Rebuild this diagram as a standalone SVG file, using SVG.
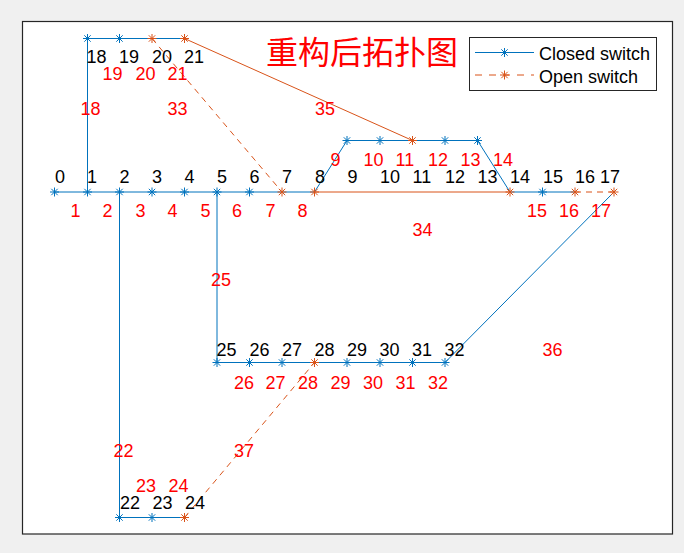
<svg xmlns="http://www.w3.org/2000/svg" xmlns:xlink="http://www.w3.org/1999/xlink" width="684" height="553" viewBox="0 0 684 553">
<style>
.cl{fill:none;stroke:#0072BD;stroke-width:1}
.op{fill:none;stroke:#D95319;stroke-width:1}
.ds{stroke-dasharray:6,5}
.t{font-family:"Liberation Sans",Arial,sans-serif;font-size:18px;fill:#000}
.r{font-family:"Liberation Sans",Arial,sans-serif;font-size:18px;fill:#f00}
.mb{stroke:#0072BD;stroke-width:1;fill:none}
.mo{stroke:#D95319;stroke-width:1;fill:none}
</style>
<defs>
<path id="ast" d="M-4.5,0H4.5M0,-4.5V4.5M-3.2,-3.2L3.2,3.2M-3.2,3.2L3.2,-3.2"/>
</defs>
<rect x="0" y="0" width="684" height="553" fill="#f0f0f0"/>
<rect x="22.5" y="21.5" width="650" height="512.5" fill="#fff" stroke="#262626" stroke-width="1.2"/>

<g id="connectors">
<polyline class="cl" points="54.5,192 87.5,192 119.5,192 152,192 184.5,192 217,192 249.5,192 282,192 314.5,192"/>
<line class="op" x1="314.5" y1="192" x2="510" y2="192"/>
<polyline class="cl" points="314.5,192 347,140.5 380,140.5 412.5,140.5 445,140.5 477.5,140.5 510,192"/>
<polyline class="cl" points="510,192 542.5,192 575,192"/>
<line class="op ds" x1="575" y1="192" x2="614" y2="192"/>
<polyline class="cl" points="87.5,192 87.5,38.5 119.5,38.5 152,38.5 184.5,38.5"/>
<line class="op" x1="184.5" y1="38.5" x2="412.5" y2="140.5"/>
<line class="op ds" x1="152" y1="38.5" x2="282" y2="192"/>
<polyline class="cl" points="119.5,192 119.5,517.5 152,517.5 184.5,517.5"/>
<line class="op ds" x1="184.5" y1="517.5" x2="314.5" y2="362.5"/>
<polyline class="cl" points="217,192 217,362.5 249.5,362.5 282,362.5 314.5,362.5 347,362.5 380,362.5 412.5,362.5 445,362.5 614,192"/>
<g id="branch-labels">
<text class="r" x="70.5" y="217">1</text>
<text class="r" x="102.5" y="217">2</text>
<text class="r" x="135.5" y="217">3</text>
<text class="r" x="167.5" y="217">4</text>
<text class="r" x="200.5" y="217">5</text>
<text class="r" x="232" y="217">6</text>
<text class="r" x="265.5" y="217">7</text>
<text class="r" x="297.5" y="217">8</text>
<text class="r" x="330.5" y="166">9</text>
<text class="r" x="363.5" y="166">10</text>
<text class="r" x="395.5" y="166">11</text>
<text class="r" x="428" y="166">12</text>
<text class="r" x="460.5" y="166">13</text>
<text class="r" x="493" y="166">14</text>
<text class="r" x="527" y="217">15</text>
<text class="r" x="559" y="217">16</text>
<text class="r" x="591" y="217">17</text>
<text class="r" x="80.5" y="115">18</text>
<text class="r" x="102.5" y="80">19</text>
<text class="r" x="135.5" y="80">20</text>
<text class="r" x="167.5" y="80">21</text>
<text class="r" x="113.5" y="457">22</text>
<text class="r" x="136" y="492">23</text>
<text class="r" x="168.5" y="492">24</text>
<text class="r" x="211" y="286">25</text>
<text class="r" x="234" y="389">26</text>
<text class="r" x="265.5" y="389">27</text>
<text class="r" x="298" y="389">28</text>
<text class="r" x="330.5" y="389">29</text>
<text class="r" x="363" y="389">30</text>
<text class="r" x="395.5" y="389">31</text>
<text class="r" x="428" y="389">32</text>
<text class="r" x="167.5" y="115">33</text>
<text class="r" x="412.5" y="236">34</text>
<text class="r" x="315" y="115">35</text>
<text class="r" x="542.5" y="356">36</text>
<text class="r" x="234" y="457">37</text>
</g>
</g>

<g id="n0"><use href="#ast" class="mb" x="54.5" y="192"/><text class="t" x="55" y="183">0</text></g>
<g id="n1"><use href="#ast" class="mb" x="87.5" y="192"/><text class="t" x="87" y="183">1</text></g>
<g id="n2"><use href="#ast" class="mb" x="119.5" y="192"/><text class="t" x="119.5" y="183">2</text></g>
<g id="n3"><use href="#ast" class="mb" x="152" y="192"/><text class="t" x="152" y="183">3</text></g>
<g id="n4"><use href="#ast" class="mb" x="184.5" y="192"/><text class="t" x="184.5" y="183">4</text></g>
<g id="n5"><use href="#ast" class="mb" x="217" y="192"/><text class="t" x="217" y="183">5</text></g>
<g id="n6"><use href="#ast" class="mb" x="249.5" y="192"/><text class="t" x="249.5" y="183">6</text></g>
<g id="n7"><use href="#ast" class="mo" x="282" y="192"/><text class="t" x="282" y="183">7</text></g>
<g id="n8"><use href="#ast" class="mo" x="314.5" y="192"/><text class="t" x="315" y="183">8</text></g>
<g id="n9"><use href="#ast" class="mb" x="347" y="140.5"/><text class="t" x="347.5" y="183">9</text></g>
<g id="n10"><use href="#ast" class="mb" x="380" y="140.5"/><text class="t" x="380" y="183">10</text></g>
<g id="n11"><use href="#ast" class="mo" x="412.5" y="140.5"/><text class="t" x="412.5" y="183">11</text></g>
<g id="n12"><use href="#ast" class="mb" x="445" y="140.5"/><text class="t" x="445" y="183">12</text></g>
<g id="n13"><use href="#ast" class="mb" x="477.5" y="140.5"/><text class="t" x="477.5" y="183">13</text></g>
<g id="n14"><use href="#ast" class="mo" x="510" y="192"/><text class="t" x="510" y="183">14</text></g>
<g id="n15"><use href="#ast" class="mb" x="542.5" y="192"/><text class="t" x="543" y="183">15</text></g>
<g id="n16"><use href="#ast" class="mo" x="575" y="192"/><text class="t" x="575" y="183">16</text></g>
<g id="n17"><use href="#ast" class="mo" x="614" y="192"/><text class="t" x="600" y="183">17</text></g>
<g id="n18"><use href="#ast" class="mb" x="87.5" y="38.5"/><text class="t" x="86.5" y="63">18</text></g>
<g id="n19"><use href="#ast" class="mb" x="119.5" y="38.5"/><text class="t" x="119" y="63">19</text></g>
<g id="n20"><use href="#ast" class="mo" x="152" y="38.5"/><text class="t" x="152" y="63">20</text></g>
<g id="n21"><use href="#ast" class="mo" x="184.5" y="38.5"/><text class="t" x="184" y="63">21</text></g>
<g id="n22"><use href="#ast" class="mb" x="119.5" y="517.5"/><text class="t" x="120" y="509">22</text></g>
<g id="n23"><use href="#ast" class="mb" x="152" y="517.5"/><text class="t" x="152.5" y="509">23</text></g>
<g id="n24"><use href="#ast" class="mo" x="184.5" y="517.5"/><text class="t" x="185" y="509">24</text></g>
<g id="n25"><use href="#ast" class="mb" x="217" y="362.5"/><text class="t" x="216.5" y="356">25</text></g>
<g id="n26"><use href="#ast" class="mb" x="249.5" y="362.5"/><text class="t" x="249.5" y="356">26</text></g>
<g id="n27"><use href="#ast" class="mb" x="282" y="362.5"/><text class="t" x="282" y="356">27</text></g>
<g id="n28"><use href="#ast" class="mo" x="314.5" y="362.5"/><text class="t" x="314.5" y="356">28</text></g>
<g id="n29"><use href="#ast" class="mb" x="347" y="362.5"/><text class="t" x="347" y="356">29</text></g>
<g id="n30"><use href="#ast" class="mb" x="380" y="362.5"/><text class="t" x="379.5" y="356">30</text></g>
<g id="n31"><use href="#ast" class="mb" x="412.5" y="362.5"/><text class="t" x="412" y="356">31</text></g>
<g id="n32"><use href="#ast" class="mb" x="445" y="362.5"/><text class="t" x="444.5" y="356">32</text></g>

<g id="title"><text x="266" y="64" style="font-family:'Noto Sans CJK SC',sans-serif;font-size:32px;fill:#f00">重构后拓扑图</text></g>

<g id="legend">
<rect x="469.5" y="37.5" width="187" height="53" fill="#fff" stroke="#262626" stroke-width="1"/>
<line class="cl" x1="475" y1="52.5" x2="534" y2="52.5"/>
<use href="#ast" class="mb" x="504.5" y="52.5"/>
<text class="t" x="539" y="60">Closed switch</text>
<line class="op" x1="475" y1="75" x2="534" y2="75" stroke-dasharray="7,7"/>
<use href="#ast" class="mo" x="504.5" y="75"/>
<text class="t" x="539" y="83">Open switch</text>
</g>
</svg>
